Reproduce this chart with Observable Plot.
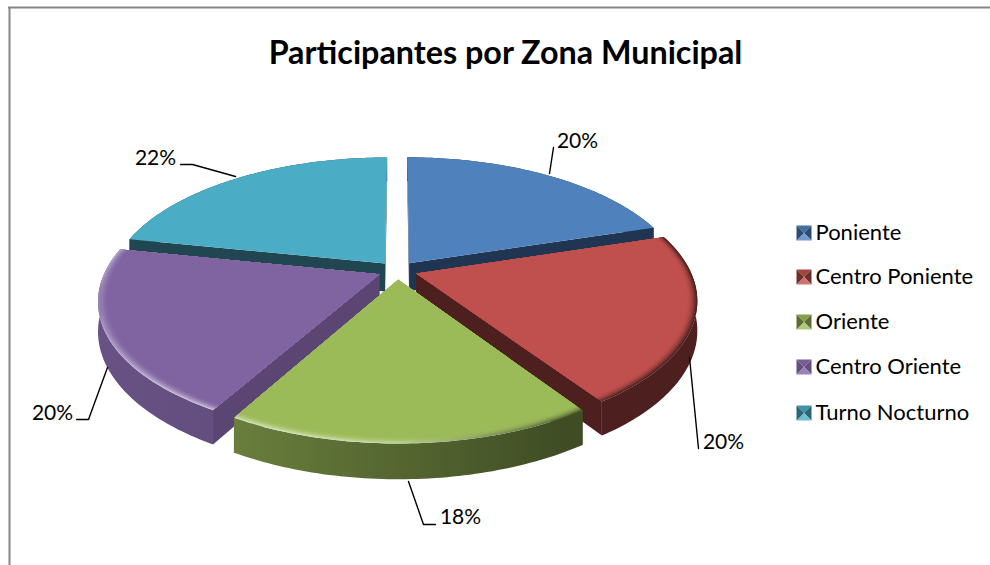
<!DOCTYPE html>
<html><head><meta charset="utf-8">
<style>html,body{margin:0;padding:0;background:#fff;overflow:hidden}</style>
<script src="https://cdn.jsdelivr.net/npm/d3@7"></script>
<script src="https://cdn.jsdelivr.net/npm/@observablehq/plot@0.6"></script>
</head><body><div id="chart"></div>
<script>
const titleText = "Participantes por Zona Municipal";
const categories = ["Poniente","Centro Poniente","Oriente","Centro Oriente","Turno Nocturno"];
const values = [20.2,20.4,17.6,20.0,21.8];
const colors = ["#4F81BD","#C0504D","#9BBB59","#8064A2","#4BACC6"];
const wallColors = ["#1F3552","#4D1F1E","#3F4C24","#5A4573","#1F4651"];
const paintOrder = [0,4,1,3,2];

// layout of the projected pie
const L = {cx:397, cy:270, rx:274, ry:128.5, k:0.19, explode:0.072, depth:28.5, bevel:0.035};
const labelLayout = [[577,147],[723,448],[460,523],[52,419],[155,164]];
const leaders = [
  [[549,173],[553,147]],
  [[689,357],[698,448]],
  [[408,481],[423,524],[435,524]],
  [[107,367],[88,419],[76,419]],
  [[235,176],[192,164],[180,164]]
];
const legendLayout = {x:796, size:15, text:815, rows:[232,276,321,366,412]};

const rad = d => d*Math.PI/180;
const total = d3.sum(values);
let a = 0;
const slices = values.map((v,i)=>{const s={i,a0:a,a1:a+v/total*360};a=s.a1;s.m=(s.a0+s.a1)/2;return s;});

function proj(X,Y,z=0){
  const w = 1+L.k*Y;
  return [L.cx+L.rx*X/w, L.cy-L.ry*Y/w+z*L.depth/w];
}
function pt(s,theta,r,z=0){
  const ex=L.explode*Math.sin(rad(s.m)), ey=L.explode*Math.cos(rad(s.m));
  return proj(ex+r*Math.sin(rad(theta)), ey+r*Math.cos(rad(theta)), z);
}
const polys=[]; let pid=0;
function poly(points,c){const id=pid++;points.forEach(p=>polys.push({id,c,x:p[0],y:p[1]}));}
function arcAngles(a0,a1,step){const n=Math.max(1,Math.ceil((a1-a0)/step));return d3.range(n+1).map(j=>a0+(a1-a0)*j/n);}

// horizontal gradients sampled along the front part of each arc
const gradients=[];
function gradient(s,colorAt){
  const id="grad"+gradients.length;
  const front=arcAngles(Math.max(s.a0,95),Math.min(s.a1,268),2).filter(t=>t>=s.a0&&t<=s.a1);
  const angles=front.length>1?front:arcAngles(s.a0,s.a1,2);
  const samples=angles.map(t=>({x:pt(s,t,1)[0],c:colorAt(t)})).sort((p,q)=>p.x-q.x);
  const x1=samples[0].x,x2=samples[samples.length-1].x;
  gradients.push({id,x1,x2,stops:samples.map(p=>({o:(p.x-x1)/(x2-x1),c:p.c}))});
  return `url(#${id})`;
}
const gradientDefs=()=>{
  const defs=d3.create("svg:defs");
  for(const g of gradients){
    const n=defs.append("linearGradient").attr("id",g.id).attr("gradientUnits","userSpaceOnUse")
      .attr("x1",g.x1).attr("x2",g.x2).attr("y1",0).attr("y2",0);
    g.stops.forEach(s=>n.append("stop").attr("offset",s.o).attr("stop-color",s.c));
  }
  return defs.node();
};

for(const idx of paintOrder){
  const s=slices[idx], base=colors[idx], wall=wallColors[idx];
  const front=s.a1>100&&s.a0<270;
  for(const t of [s.a0,s.a1])
    poly([pt(s,0,0),pt(s,t,1),pt(s,t,1,1),pt(s,0,0,1)],wall);
  const light=d3.interpolateRgb(base,"#000")(0.18);
  const rimAt=t=>d3.interpolateRgb(light,wall)(Math.max(0,Math.min(1,(Math.sin(rad(t))+1)/1.5)));
  const A=arcAngles(s.a0,s.a1,1);
  const outer=A.map(t=>pt(s,t,1)), under=A.map(t=>pt(s,t,1,1)).reverse();
  poly([...outer,...under],front?gradient(s,rimAt):wall);
  const wedge=r=>[pt(s,0,0),...A.map(t=>pt(s,t,r))];
  if(!front){ poly(wedge(1),base); continue; }
  // bevel: nested wedges from the edge colour inward to the flat colour
  const edgeAt=t=>{
    const glow=0.45*Math.exp(-Math.pow((t-210)/45,2))+0.1;
    const dark=t<180?Math.max(0,Math.min(1,Math.sin(rad(t))*1.6)):0;
    return d3.interpolateRgb(d3.interpolateRgb(base,"#fff")(glow),wall)(dark);
  };
  const steps=8;
  for(let q=steps;q>=1;q--){
    const u=q/steps;
    poly(wedge(1-L.bevel*(1-u)),gradient(s,t=>d3.interpolateRgb(base,edgeAt(t))(u*u)));
  }
  poly(wedge(1-L.bevel),base);
}
categories.forEach((n,i)=>{
  const X=legendLayout.x,S=legendLayout.size,Y=legendLayout.rows[i]-S/2+0.5;
  const m=[X+S/2,Y+S/2],tl=[X,Y],tr=[X+S,Y],br=[X+S,Y+S],bl=[X,Y+S];
  const b=colors[i],d=wallColors[i];
  poly([tl,tr,m],d3.interpolateRgb(b,d)(0.25));
  poly([tr,br,m],d3.interpolateRgb(b,d)(0.7));
  poly([br,bl,m],d3.interpolateRgb(b,"#fff")(0.2));
  poly([bl,tl,m],d3.interpolateRgb(b,d)(0.7));
});

const leaderRows=leaders.flatMap((l,i)=>l.map(p=>({i,x:p[0],y:p[1]})));
const labelRows=values.map((v,i)=>({t:Math.round(v)+"%",x:labelLayout[i][0],y:labelLayout[i][1]}));
const legendRows=categories.map((t,i)=>({t,x:legendLayout.text,y:legendLayout.rows[i]+7}));
const FONT="Lato, 'Open Sans', sans-serif";

const plot=Plot.plot({
  width:990,height:565,margin:0,
  style:{background:"#fff",fontFamily:FONT},
  x:{domain:[0,990],range:[0,990],axis:null},
  y:{domain:[0,565],range:[0,565],axis:null},
  color:{type:"identity"},
  marks:[
    gradientDefs,
    Plot.ruleY([7],{x1:8,x2:990,stroke:"#868686",strokeWidth:2}),
    Plot.ruleX([9],{y1:7,y2:565,stroke:"#868686",strokeWidth:2}),
    Plot.line(polys,{x:"x",y:"y",z:"id",fill:"c",stroke:"none",curve:"linear-closed"}),
    Plot.line(leaderRows,{x:"x",y:"y",z:"i",stroke:"#000",strokeWidth:1.4,curve:"linear"}),
    Plot.text(labelRows,{x:"x",y:"y",text:"t",fontSize:21,fill:"#000",textAnchor:"middle",lineAnchor:"bottom",fontFamily:FONT}),
    Plot.text(legendRows,{x:"x",y:"y",text:"t",fontSize:22,fill:"#000",textAnchor:"start",lineAnchor:"bottom",fontFamily:FONT}),
    Plot.text([titleText],{x:()=>505,y:()=>63,text:d=>d,fontSize:32.3,fontWeight:700,fill:"#000",textAnchor:"middle",lineAnchor:"bottom",fontFamily:FONT})
  ]
});
document.getElementById("chart").appendChild(plot);
</script></body></html>
